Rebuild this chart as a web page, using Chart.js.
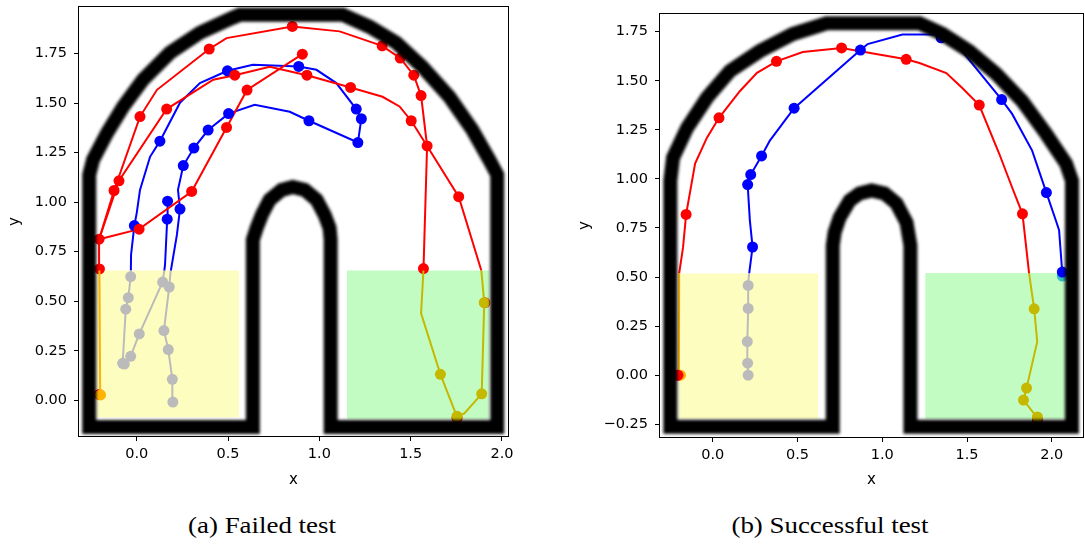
<!DOCTYPE html>
<html>
<head>
<meta charset="utf-8">
<script src="https://cdn.jsdelivr.net/npm/chart.js@4.4.1/dist/chart.umd.min.js"></script>
<style>
  body { margin: 0; background: #fff; width: 1085px; height: 545px; position: relative; overflow: hidden; }
  .box { position: absolute; top: 0; height: 500px; }
  .cap { position: absolute; top: 512px; font-family: 'Liberation Serif', 'Times New Roman', serif; font-size: 24px; color: #000;
         white-space: nowrap; transform: translateX(-50%) scaleX(1.12); transform-origin: 50% 50%; }
</style>
</head>
<body>
<div class="box" style="left:0;width:540px"><canvas id="cv-A"></canvas></div>
<div class="box" style="left:560px;width:525px"><canvas id="cv-B"></canvas></div>
<div class="cap" style="left:262px">(a) Failed test</div>
<div class="cap" style="left:830px">(b) Successful test</div>
<script>
// ---- (a) failed test ----
const xRangeA = [-0.316, 2.033];
const yRangeA = [-0.18, 1.985];
const xTicksA = [0, 0.5, 1, 1.5, 2];
const yTicksA = [0, 0.25, 0.5, 0.75, 1, 1.25, 1.5, 1.75];

const startBoxA = [-0.219, 0.560, -0.086, 0.655];   // x0, x1, y0, y1
const goalBoxA = [1.151, 1.930, -0.096, 0.655];

const wallA = [
  [0.19, -0.135], [-0.26, -0.135], [-0.26, 1.138], [-0.239, 1.214], [-0.162, 1.350], [-0.075, 1.481],
  [0.034, 1.617], [0.182, 1.754], [0.346, 1.855], [0.526, 1.931], [0.564, 1.946], [1.127, 1.946],
  [1.275, 1.885], [1.422, 1.804], [1.564, 1.683], [1.712, 1.532], [1.838, 1.365], [1.931, 1.213],
  [1.974, 1.138], [1.974, -0.135], [1.062, -0.135], [1.062, 0.810], [1.056, 0.870], [1.029, 0.936],
  [0.985, 1.012], [0.920, 1.062], [0.854, 1.077], [0.794, 1.062], [0.728, 1.012], [0.685, 0.936],
  [0.657, 0.870], [0.636, 0.810], [0.636, -0.135], [0.19, -0.135]
];

// agent 1 outside the zones (red), inside start zone (orange), inside goal zone (olive)
const redPathsA = [
  [[-0.204, 0.655], [-0.206, 0.813], [-0.124, 1.059], [0.018, 1.432], [0.111, 1.567], [0.397, 1.773],
   [0.492, 1.828], [0.852, 1.887], [1.111, 1.862], [1.344, 1.789], [1.443, 1.727], [1.517, 1.641],
   [1.557, 1.538], [1.590, 1.284], [1.570, 0.655]],
  [[1.887, 0.655], [1.763, 1.028], [1.590, 1.284], [1.503, 1.411], [1.439, 1.483], [1.346, 1.532],
   [1.171, 1.579], [0.932, 1.641], [0.728, 1.683], [0.537, 1.641], [0.419, 1.618], [0.164, 1.470],
   [-0.097, 1.108], [-0.206, 0.813], [0.013, 0.864], [0.301, 1.054], [0.492, 1.377], [0.604, 1.566],
   [0.907, 1.747]]
];
const redDotsA = [
  [-0.205, 0.030], [-0.204, 0.663], [-0.206, 0.813], [-0.124, 1.059], [-0.097, 1.108], [0.018, 1.432],
  [0.164, 1.470], [0.397, 1.773], [0.852, 1.887], [1.344, 1.789], [1.443, 1.727], [1.517, 1.641],
  [1.557, 1.538], [1.590, 1.284], [1.570, 0.665], [1.763, 1.028], [1.503, 1.411], [1.171, 1.579],
  [0.932, 1.641], [0.537, 1.641], [0.013, 0.864], [0.301, 1.054], [0.492, 1.377], [0.604, 1.566],
  [0.907, 1.747], [1.906, 0.493], [1.754, -0.090]
];
const orangePathA = [[-0.200, 0.027], [-0.204, 0.655]];
const orangeDotsA = [[-0.198, 0.027]];
const olivePathA = [
  [1.570, 0.655], [1.557, 0.439], [1.663, 0.131], [1.754, -0.083], [1.794, -0.066],
  [1.889, 0.033], [1.903, 0.493], [1.887, 0.655]
];
const oliveDotsA = [[1.663, 0.131], [1.754, -0.080], [1.889, 0.033], [1.903, 0.493]];

// agent 2 outside the zones (blue), inside start zone (gray)
const bluePathsA = [
  [[0.187, 0.655], [0.220, 0.835], [0.237, 0.965], [0.226, 1.062], [0.255, 1.185], [0.313, 1.273],
   [0.391, 1.364], [0.503, 1.447], [0.646, 1.491], [0.838, 1.456], [0.943, 1.411], [1.211, 1.301],
   [1.230, 1.421], [1.202, 1.470], [1.093, 1.601], [0.984, 1.668], [0.887, 1.685], [0.636, 1.693],
   [0.497, 1.663], [0.346, 1.601], [0.237, 1.502], [0.127, 1.308], [0.073, 1.229], [0.018, 1.062],
   [0.000, 0.945], [-0.013, 0.882], [-0.031, 0.734], [-0.032, 0.655]],
  [[0.151, 0.655], [0.155, 0.683], [0.167, 0.914], [0.169, 1.005]]
];
const blueDotsA = [
  [0.237, 0.965], [0.255, 1.185], [0.313, 1.273], [0.391, 1.364], [0.503, 1.447], [0.943, 1.411],
  [1.211, 1.301], [1.230, 1.421], [1.202, 1.470], [0.887, 1.685], [0.497, 1.663], [0.127, 1.308],
  [-0.013, 0.882], [0.167, 0.914], [0.169, 1.005]
];
const grayPathsA = [
  [[0.198, -0.009], [0.195, 0.106], [0.173, 0.256], [0.149, 0.352], [0.178, 0.572], [0.186, 0.655]],
  [[-0.032, 0.655], [-0.033, 0.624], [-0.046, 0.518], [-0.060, 0.460], [-0.077, 0.187], [-0.068, 0.183],
   [-0.033, 0.222], [0.014, 0.335], [0.142, 0.597], [0.151, 0.655]]
];
const grayDotsA = [
  [0.198, -0.009], [0.195, 0.106], [0.173, 0.256], [0.149, 0.352], [0.178, 0.572], [0.142, 0.597],
  [-0.033, 0.624], [-0.046, 0.518], [-0.060, 0.460], [-0.077, 0.187], [-0.068, 0.183], [-0.033, 0.222],
  [0.014, 0.335]
];

// ---- (b) successful test ----
const xRangeB = [-0.311, 2.184];
const yRangeB = [-0.315, 1.840];
const xTicksB = [0, 0.5, 1, 1.5, 2];
const yTicksB = [-0.25, 0, 0.25, 0.5, 0.75, 1, 1.25, 1.5, 1.75];

const startBoxB = [-0.202, 0.621, -0.222, 0.518];
const goalBoxB = [1.253, 2.082, -0.223, 0.520];

const wallB = [
  [0.23, -0.263], [-0.25, -0.263], [-0.25, 0.991], [-0.234, 1.108], [-0.151, 1.260], [-0.034, 1.413],
  [0.102, 1.550], [0.278, 1.651], [0.472, 1.738], [0.672, 1.793], [1.219, 1.793], [1.355, 1.738],
  [1.513, 1.651], [1.672, 1.535], [1.825, 1.397], [1.966, 1.230], [2.084, 1.078], [2.119, 0.991],
  [2.119, -0.263], [1.166, -0.263], [1.166, 0.661], [1.143, 0.778], [1.084, 0.875], [1.013, 0.926],
  [0.937, 0.941], [0.866, 0.926], [0.808, 0.890], [0.749, 0.804], [0.719, 0.728], [0.708, 0.661],
  [0.708, -0.263], [0.23, -0.263]
];

const redPathsB = [[
  [-0.198, 0.519], [-0.175, 0.651], [-0.157, 0.819], [-0.104, 1.078], [-0.034, 1.210], [0.037, 1.311],
  [0.161, 1.448], [0.261, 1.540], [0.376, 1.599], [0.531, 1.646], [0.760, 1.667], [1.141, 1.609],
  [1.219, 1.590], [1.378, 1.539], [1.472, 1.463], [1.572, 1.376], [1.690, 1.128], [1.766, 0.956],
  [1.827, 0.822], [1.866, 0.519]
]];
const redDotsB = [
  [-0.205, 0.000], [-0.157, 0.819], [0.037, 1.311], [0.376, 1.599], [0.760, 1.667], [1.141, 1.609],
  [1.572, 1.376], [1.827, 0.822], [1.915, -0.228]
];
const orangePathB = [[-0.198, 0.519], [-0.200, 0.000]];
const orangeDotsB = [[-0.190, 0.000]];
const olivePathB = [[1.866, 0.519], [1.896, 0.338], [1.914, 0.171], [1.851, -0.066], [1.833, -0.127], [1.915, -0.218]];
const oliveDotsB = [[1.896, 0.338], [1.851, -0.066], [1.833, -0.127], [1.915, -0.213]];

const bluePathsB = [[
  [0.215, 0.518], [0.235, 0.653], [0.219, 0.789], [0.206, 0.971], [0.224, 1.022], [0.288, 1.117],
  [0.337, 1.195], [0.480, 1.360], [0.871, 1.656], [0.914, 1.687], [1.119, 1.736], [1.318, 1.736],
  [1.347, 1.719], [1.455, 1.668], [1.704, 1.404], [1.766, 1.331], [1.884, 1.144], [1.968, 0.930],
  [2.024, 0.788], [2.043, 0.738], [2.062, 0.518]
]];
const blueDotsB = [
  [0.235, 0.653], [0.206, 0.971], [0.224, 1.022], [0.288, 1.117], [0.480, 1.360], [0.871, 1.656],
  [1.347, 1.719], [1.704, 1.404], [1.968, 0.930], [2.062, 0.525]
];
const grayPathsB = [[[0.209, 0.000], [0.206, 0.061], [0.204, 0.171], [0.209, 0.340], [0.209, 0.457], [0.214, 0.518]]];
const grayDotsB = [[0.209, 0.000], [0.206, 0.061], [0.204, 0.171], [0.209, 0.340], [0.209, 0.457]];
const tealDotsB = [[2.062, 0.505]];

// ---- styling ----
const RED = '#ff0000', BLUE = '#0000ff', ORANGE = '#ffb400', OLIVE = '#c4b800', GRAY = '#bbbbbb', TEAL = '#33c0c0';
const YELLOW_BOX = '#fdfdc0', GREEN_BOX = '#c3fcc3';
const tickFont = { family: 'DejaVu Sans', size: 14.5 };
const titleFont = { family: 'DejaVu Sans', size: 15 };

function lineSet(pts, color, order) {
  return { data: pts, showLine: true, borderColor: color, borderWidth: 2, pointRadius: 0, fill: false, order: order };
}
function dotSet(pts, color, order) {
  return { data: pts, showLine: false, pointRadius: 5.5, pointBackgroundColor: color, pointBorderWidth: 0,
           borderColor: color, order: order };
}
function boxSet(b, color) {
  return { data: [[b[0], b[3]], [b[1], b[3]]], showLine: true, borderWidth: 0, borderColor: 'rgba(0,0,0,0)',
           pointRadius: 0, backgroundColor: color, fill: { value: b[2] }, order: 20 };
}
function wallSet(pts) {
  return { data: pts, showLine: true, wall: true, borderColor: '#000', borderWidth: 14, pointRadius: 0,
           borderJoinStyle: 'miter', borderCapStyle: 'butt', fill: false, order: 0 };
}

const wallLook = {
  id: 'wallLook',
  beforeDatasetDraw(chart, args) {
    if (!chart.data.datasets[args.index].wall) return;
    chart.ctx.save();
    chart.ctx.filter = 'blur(1.6px)';
    chart.ctx.globalCompositeOperation = 'multiply';
  },
  afterDatasetDraw(chart, args) {
    if (chart.data.datasets[args.index].wall) chart.ctx.restore();
  }
};

const frame = {
  id: 'frame',
  afterDraw(chart) {
    const a = chart.chartArea, ctx = chart.ctx;
    ctx.save();
    ctx.strokeStyle = '#000';
    ctx.lineWidth = 1;
    ctx.strokeRect(a.left - 0.5, a.top - 0.5, a.right - a.left + 1, a.bottom - a.top + 1);
    ctx.restore();
  }
};

function fmt(v, digits) {
  const s = Math.abs(v).toFixed(digits);
  return v < 0 ? '\u2212' + s : s;
}

function makeChart(id, o) {
  return new Chart(document.getElementById(id), {
    type: 'line',
    data: { datasets: o.datasets },
    options: {
      responsive: true,
      maintainAspectRatio: false,
      animation: false,
      events: [],
      devicePixelRatio: 1,
      layout: { autoPadding: false, padding: o.padding },
      plugins: { legend: { display: false }, tooltip: { enabled: false } },
      scales: {
        x: {
          type: 'linear', min: o.xRange[0], max: o.xRange[1],
          afterBuildTicks: s => { s.ticks = o.xTicks.map(v => ({ value: v })); },
          afterFit: s => { s.height = o.xAxisH; s.paddingLeft = s.paddingRight = s.paddingTop = s.paddingBottom = 0; },
          ticks: { autoSkip: false, maxRotation: 0, font: tickFont, color: '#000', padding: 5,
                   callback: v => fmt(v, 1) },
          grid: { drawOnChartArea: false, drawTicks: true, tickLength: 5, color: '#000' },
          border: { display: false },
          title: { display: true, text: 'x', font: titleFont, color: '#000', padding: { top: 0, bottom: 11 } }
        },
        y: {
          type: 'linear', min: o.yRange[0], max: o.yRange[1],
          afterBuildTicks: s => { s.ticks = o.yTicks.map(v => ({ value: v })); },
          afterFit: s => { s.width = o.yAxisW; s.paddingLeft = s.paddingRight = s.paddingTop = s.paddingBottom = 0; },
          ticks: { autoSkip: false, font: tickFont, color: '#000', padding: 7,
                   callback: v => fmt(v, 2) },
          grid: { drawOnChartArea: false, drawTicks: true, tickLength: 5, color: '#000' },
          border: { display: false },
          title: { display: true, text: 'y', font: titleFont, color: '#000', padding: { top: o.yTitlePad, bottom: 0 } }
        }
      }
    },
    plugins: [wallLook, frame]
  });
}

makeChart('cv-A', {
  xRange: xRangeA, yRange: yRangeA, xTicks: xTicksA, yTicks: yTicksA,
  padding: { left: 0, top: 7, right: 32, bottom: 0 }, yAxisW: 79, xAxisH: 64, yTitlePad: 6,
  datasets: [
    wallSet(wallA),
    dotSet(orangeDotsA, ORANGE, 2), dotSet(oliveDotsA, OLIVE, 2), dotSet(grayDotsA, GRAY, 2),
    lineSet(orangePathA, ORANGE, 3), lineSet(olivePathA, OLIVE, 3),
    ...grayPathsA.map(p => lineSet(p, GRAY, 3)),
    dotSet(redDotsA, RED, 4), dotSet(blueDotsA, BLUE, 4),
    ...redPathsA.map(p => lineSet(p, RED, 5)),
    ...bluePathsA.map(p => lineSet(p, BLUE, 5)),
    boxSet(startBoxA, YELLOW_BOX), boxSet(goalBoxA, GREEN_BOX)
  ]
});

makeChart('cv-B', {
  xRange: xRangeB, yRange: yRangeB, xTicks: xTicksB, yTicks: yTicksB,
  padding: { left: 0, top: 14, right: 2, bottom: 0 }, yAxisW: 100, xAxisH: 63, yTitlePad: 16,
  datasets: [
    wallSet(wallB),
    dotSet(redDotsB.slice(0, 1), RED, 1),
    dotSet(orangeDotsB, ORANGE, 2), dotSet(oliveDotsB, OLIVE, 2), dotSet(grayDotsB, GRAY, 2),
    lineSet(orangePathB, ORANGE, 3), lineSet(olivePathB, OLIVE, 3),
    ...grayPathsB.map(p => lineSet(p, GRAY, 3)),
    dotSet(redDotsB, RED, 4), dotSet(blueDotsB, BLUE, 4), dotSet(tealDotsB, TEAL, 4.5),
    ...redPathsB.map(p => lineSet(p, RED, 5)),
    ...bluePathsB.map(p => lineSet(p, BLUE, 5)),
    boxSet(startBoxB, YELLOW_BOX), boxSet(goalBoxB, GREEN_BOX)
  ]
});
</script>
</body>
</html>
